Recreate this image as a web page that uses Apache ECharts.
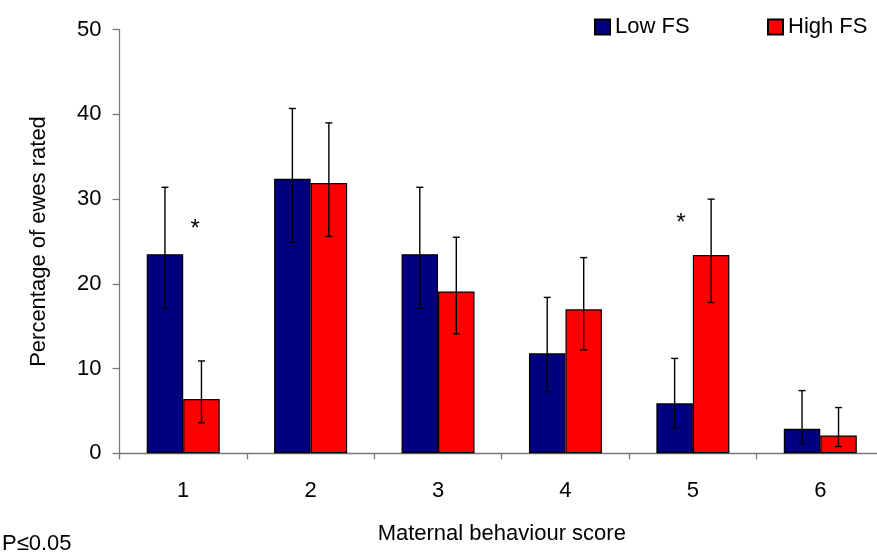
<!DOCTYPE html>
<html>
<head>
<meta charset="utf-8">
<script src="https://cdn.jsdelivr.net/npm/echarts@6/dist/echarts.min.js"></script>
<style>
  html, body { margin: 0; padding: 0; background: #fff; }
  #chart { width: 877px; height: 555px; }
</style>
</head>
<body>
<div id="chart"></div>
<script>
// Maternal behaviour score categories
const categories = ['1', '2', '3', '4', '5', '6'];

// Percentage of ewes rated at each score
const lowFS  = [23.5, 32.4, 23.5, 11.8, 5.9, 2.9];
const highFS = [6.4, 31.9, 19.1, 17.0, 23.4, 2.1];

// Error bar limits (lower, upper)
const lowFSLower  = [17.1, 24.9, 17.1, 7.3, 3.0, 1.1];
const lowFSUpper  = [31.4, 40.7, 31.4, 18.4, 11.2, 7.4];
const highFSLower = [3.6, 25.6, 14.1, 12.2, 17.8, 0.8];
const highFSUpper = [10.9, 39.0, 25.5, 23.1, 30.0, 5.4];

// Scores with a significant difference, and the height of their asterisk
const sigCats = ['1', '5'];
const sigHeights = [27.1, 27.8];

const yTicks = [0, 10, 20, 30, 40, 50];

const FONT = '"Liberation Sans", Arial, sans-serif';
const FS = 22;
const AXIS_GREY = '#7a7a7a';
const BAR_W = 36.5;

function errorBarSeries(name, lower, upper, side) {
  const data = categories.map((c, i) => [i, lower[i], upper[i]]);
  return {
    type: 'custom',
    name: name + ' error',
    silent: true,
    z: 5,
    encode: { x: 0, y: [1, 2] },
    data: data,
    renderItem: function (params, api) {
      const lo = api.coord([api.value(0), api.value(1)]);
      const hi = api.coord([api.value(0), api.value(2)]);
      const x = lo[0] + side * BAR_W / 2;
      const cap = 3.5;
      const style = { stroke: '#000', lineWidth: 1.4 };
      return {
        type: 'group',
        children: [
          { type: 'line', shape: { x1: x, y1: lo[1], x2: x, y2: hi[1] }, style: style },
          { type: 'line', shape: { x1: x - cap, y1: hi[1], x2: x + cap, y2: hi[1] }, style: style },
          { type: 'line', shape: { x1: x - cap, y1: lo[1], x2: x + cap, y2: lo[1] }, style: style }
        ]
      };
    }
  };
}

const sigData = sigCats.map((c, k) => {
  const i = categories.indexOf(c);
  // asterisk sits toward the lower of the two bars
  const side = lowFS[i] < highFS[i] ? -1 : 1;
  return [i, sigHeights[k], side];
});

const chart = echarts.init(document.getElementById('chart'), null, { renderer: 'canvas' });

chart.setOption({
  animation: false,
  backgroundColor: '#fff',
  textStyle: { fontFamily: FONT },
  grid: {
    left: 119.5, top: 29.7, right: -7, bottom: 555 - 453.3,
    containLabel: false, outerBoundsMode: 'none'
  },
  legend: [
    {
      data: ['Low FS'], left: 594, top: 16, itemWidth: 15, itemHeight: 15, itemGap: 0,
      textStyle: { fontSize: FS, color: '#000', fontFamily: FONT },
      icon: 'rect', padding: 0
    },
    {
      data: ['High FS'], left: 767, top: 16, itemWidth: 15, itemHeight: 15, itemGap: 0,
      textStyle: { fontSize: FS, color: '#000', fontFamily: FONT },
      icon: 'rect', padding: 0
    }
  ],
  xAxis: {
    type: 'category',
    data: categories,
    boundaryGap: true,
    name: 'Maternal behaviour score',
    nameLocation: 'middle',
    nameGap: 70,
    nameTextStyle: { fontSize: FS, color: '#000', fontFamily: FONT },
    axisLine: { lineStyle: { color: AXIS_GREY, width: 1.3 } },
    axisTick: { show: true, length: 6, alignWithLabel: false, lineStyle: { color: AXIS_GREY, width: 1.3 } },
    axisLabel: { fontSize: FS, color: '#000', margin: 27, fontFamily: FONT },
    splitLine: { show: false }
  },
  yAxis: {
    type: 'value',
    min: yTicks[0],
    max: yTicks[yTicks.length - 1],
    interval: yTicks[1] - yTicks[0],
    name: 'Percentage of ewes rated',
    nameLocation: 'middle',
    nameGap: 70,
    nameRotate: 90,
    nameTextStyle: { fontSize: FS, color: '#000', fontFamily: FONT },
    axisLine: { show: true, lineStyle: { color: AXIS_GREY, width: 1.3 } },
    axisTick: { show: true, length: 7, inside: false, lineStyle: { color: AXIS_GREY, width: 1.3 } },
    axisLabel: { fontSize: FS, color: '#000', margin: 18, fontFamily: FONT },
    splitLine: { show: false }
  },
  series: [
    {
      name: 'Low FS',
      type: 'bar',
      data: lowFS,
      barWidth: BAR_W,
      barGap: '0%',
      itemStyle: { color: '#000080', borderColor: '#000', borderWidth: 1.2 }
    },
    {
      name: 'High FS',
      type: 'bar',
      data: highFS,
      barWidth: BAR_W,
      barGap: '0%',
      itemStyle: { color: '#ff0000', borderColor: '#000', borderWidth: 1.2 }
    },
    errorBarSeries('Low FS', lowFSLower, lowFSUpper, -1),
    errorBarSeries('High FS', highFSLower, highFSUpper, 1),
    {
      type: 'custom',
      name: 'significance',
      silent: true,
      z: 6,
      encode: { x: 0, y: 1 },
      data: sigData,
      renderItem: function (params, api) {
        const p = api.coord([api.value(0), api.value(1)]);
        const side = api.value(2);
        return {
          type: 'text',
          x: p[0] + side * 12,
          y: p[1] + 6,
          style: {
            text: '*', fill: '#000', fontSize: 24, fontFamily: FONT,
            align: 'center', verticalAlign: 'middle'
          }
        };
      }
    }
  ],
  graphic: [
    {
      type: 'text', left: 2, top: 533,
      style: { text: 'P≤0.05', fontSize: FS, fill: '#000', fontFamily: FONT }
    }
  ]
});
</script>
</body>
</html>
